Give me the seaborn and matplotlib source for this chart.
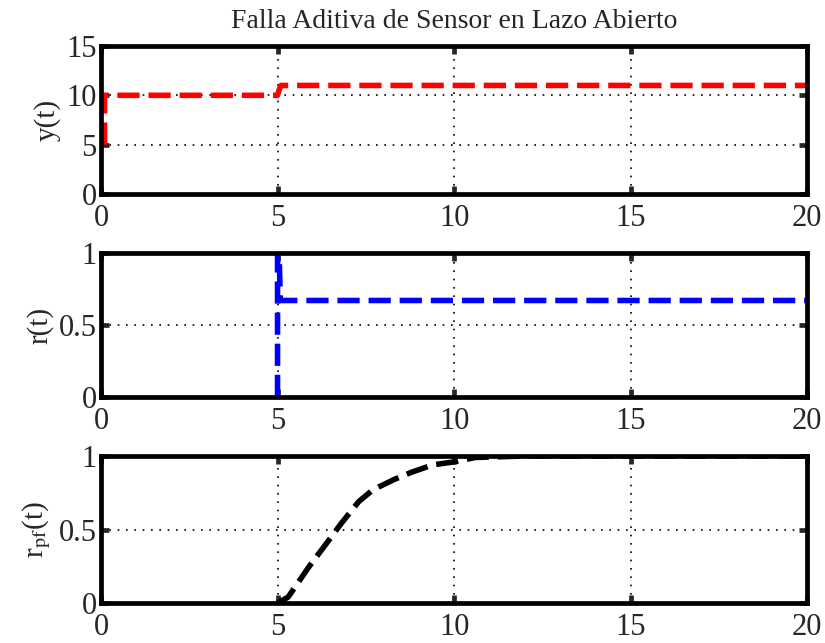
import pandas as pd
import seaborn as sns
import matplotlib
matplotlib.use('Agg')
import matplotlib.pyplot as plt


# salida y(t)
t_y = [0.1, 0.1, 5.0, 5.05, 5.1, 20.0]
y_vals = [5.0, 10.0, 10.0, 10.6, 11.0, 11.0]

# residuo r(t)
t_r = [5.0, 5.0, 5.05, 5.08, 20.0]
r_vals = [0.0, 1.0, 0.95, 0.67, 0.67]

# residuo filtrado r_pf(t)
t_rpf = [5.0, 5.3, 5.9, 6.4, 6.8, 7.3, 7.7, 8.3, 8.8, 9.4, 10.0, 10.6, 12.0, 20.0]
rpf_vals = [0.0, 0.04, 0.25, 0.41, 0.54, 0.69, 0.77, 0.84, 0.89, 0.94, 0.96, 0.99, 1.0, 1.0]

x_ticks = [0, 5, 10, 15, 20]
y_ticks_top = [0, 5, 10, 15]
y_ticks_unit = [0, 0.5, 1]


sns.set_style('white')
plt.rcParams['font.family'] = ['Liberation Serif', 'DejaVu Serif']
plt.rcParams['mathtext.fontset'] = 'stix'


def style_axes(ax, yticks, ylim, ylabel):
    ax.set_xlim(0, 20)
    ax.set_ylim(*ylim)
    ax.set_xticks(x_ticks)
    ax.set_yticks(yticks)
    ax.set_yticklabels([f'{v:g}' for v in yticks])
    ax.grid(True, color='black', linestyle=(0, (1, 4)), linewidth=1.2)
    for s in ax.spines.values():
        s.set_visible(True)
        s.set_linewidth(3.4)
        s.set_color('black')
    ax.tick_params(direction='in', length=6, width=3.4, labelsize=22,
                   top=True, right=True, left=True, bottom=True)
    ax.tick_params(axis='x', pad=7)
    ax.tick_params(axis='y', pad=3)
    ax.set_xlabel('')
    ax.set_ylabel(ylabel, fontsize=21, labelpad=4)


fig = plt.figure(figsize=(8.25, 6.43), dpi=100)
ax1 = fig.add_axes([0.1224, 0.6983, 0.856, 0.2302])
ax2 = fig.add_axes([0.1224, 0.3826, 0.856, 0.2240])
ax3 = fig.add_axes([0.1224, 0.0622, 0.856, 0.2286])

df_y = pd.DataFrame({'t': t_y, 'v': y_vals})
df_r = pd.DataFrame({'t': t_r, 'v': r_vals})
df_rpf = pd.DataFrame({'t': t_rpf, 'v': rpf_vals})

sns.lineplot(data=df_y, x='t', y='v', ax=ax1, color='#ff0000', linewidth=4.0,
             estimator=None, sort=False, linestyle=(0, (4, 1.6)))
sns.lineplot(data=df_r, x='t', y='v', ax=ax2, color='#0000ff', linewidth=4.0,
             estimator=None, sort=False, linestyle=(0, (4, 1.6)))
sns.lineplot(data=df_rpf, x='t', y='v', ax=ax3, color='black', linewidth=4.0,
             estimator=None, sort=False, linestyle=(0, (4, 1.6)))

style_axes(ax1, y_ticks_top, (0, 15), 'y(t)')
style_axes(ax2, y_ticks_unit, (0, 1), 'r(t)')
style_axes(ax3, y_ticks_unit, (0, 1), r'r$_{\mathrm{pf}}$(t)')

ax1.set_title('Falla Aditiva de Sensor en Lazo Abierto', fontsize=20, pad=13)

fig.savefig('out.png', dpi=100)
